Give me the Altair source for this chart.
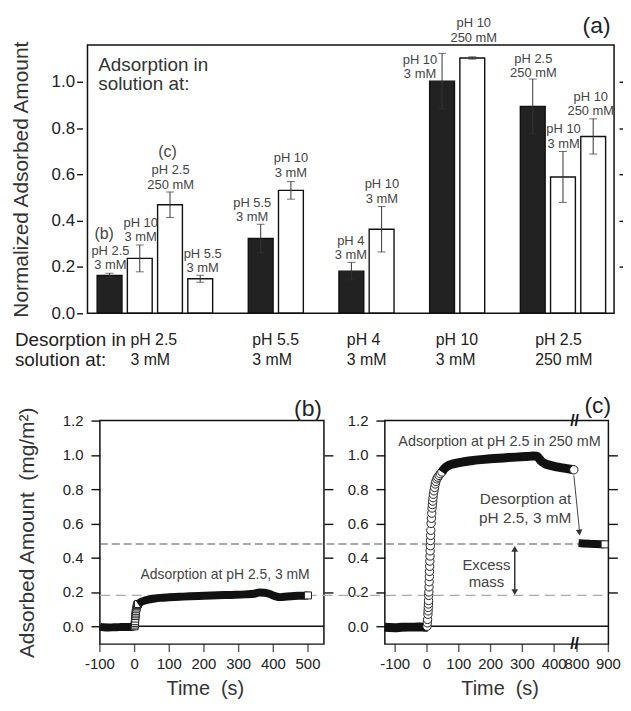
import altair as alt
import pandas as pd

# ---------------- values ----------------
# (a) normalized adsorbed amount
bar_slot = [0, 1, 2, 3, 5, 6, 8, 9, 11, 12, 14, 15, 16]
bar_value = [0.163, 0.237, 0.469, 0.149, 0.323, 0.531, 0.182, 0.363, 1.003, 1.103, 0.894, 0.589, 0.764]
bar_error = [0.010, 0.058, 0.055, 0.015, 0.062, 0.038, 0.038, 0.098, 0.120, 0.005, 0.118, 0.110, 0.076]
bar_kind = ["same", "other", "other", "other", "same", "other", "same", "other",
            "same", "other", "same", "other", "other"]
bar_label = ["pH 2.5\n3 mM", "pH 10\n3 mM", "pH 2.5\n250 mM", "pH 5.5\n3 mM",
             "pH 5.5\n3 mM", "pH 10\n3 mM", "pH 4\n3 mM", "pH 10\n3 mM",
             "pH 10\n3 mM", "pH 10\n250 mM", "pH 2.5\n250 mM", "pH 10\n3 mM", "pH 10\n250 mM"]
bar_label_x = [0.03, 1.03, 2.02, 3.08, 4.72, 6.0, 7.98, 9.01, 10.27, 12.05, 14.02, 15.02, 15.92]
bar_label_y = [0.270, 0.391, 0.618, 0.258, 0.476, 0.670, 0.313, 0.558, 1.094, 1.253, 1.099, 0.794, 0.936]
desorb_label = ["pH 2.5\n3 mM", "pH 5.5\n3 mM", "pH 4\n3 mM", "pH 10\n3 mM", "pH 2.5\n250 mM"]
desorb_x = [0.69, 4.72, 7.85, 10.79, 14.08]
y_ticks_a = [0.0, 0.2, 0.4, 0.6, 0.8, 1.0]

# (b) adsorption at pH 2.5, 3 mM
b_pre_t = [-100, -90, -75, -60, -45, -30, -15, -5, 0]
b_pre_v = [-0.002, -0.006, -0.007, -0.006, -0.005, -0.004, -0.004, -0.003, 0.0]
b_rise_t = [0, 0.5, 1, 1.5, 2, 2.5, 3, 3.5, 4, 5, 6, 7, 8, 10]
b_rise_v = [0.0, 0.01, 0.02, 0.03, 0.045, 0.06, 0.07, 0.08, 0.09, 0.10, 0.11, 0.12, 0.125, 0.13]
b_t = [10, 16, 22, 30, 40, 55, 75, 100, 130, 160, 200, 240, 280, 320, 345, 360, 375,
       390, 405, 420, 440, 460, 480, 500]
b_v = [0.13, 0.138, 0.145, 0.151, 0.156, 0.161, 0.166, 0.169, 0.172, 0.175, 0.178, 0.181,
       0.183, 0.186, 0.19, 0.197, 0.196, 0.188, 0.176, 0.17, 0.174, 0.177, 0.178, 0.18]

# (c) adsorption at pH 2.5 in 250 mM, then desorption at pH 2.5, 3 mM
c_pre_t = [-132, -120, -100, -80, -60, -40, -20, -5, 0]
c_pre_v = [-0.006, -0.007, -0.008, -0.006, -0.005, -0.005, -0.004, -0.006, -0.004]
c_rise_t = [0, 1, 2, 3, 3.5, 4, 4.5, 5, 5.5, 6, 6.5, 7, 7.5, 8, 8.5, 9, 9.5, 10, 10.5, 11,
            11.5, 12, 13, 14, 15, 16, 17, 18, 19, 20, 22, 24, 26, 28, 31, 34, 38, 42, 47]
c_rise_v = [0.0, 0.02, 0.04, 0.07, 0.09, 0.11, 0.13, 0.15, 0.18, 0.20, 0.23, 0.26, 0.29, 0.32,
            0.35, 0.38, 0.41, 0.44, 0.47, 0.50, 0.53, 0.56, 0.60, 0.63, 0.66, 0.69, 0.71, 0.73,
            0.75, 0.77, 0.79, 0.81, 0.83, 0.845, 0.86, 0.87, 0.88, 0.89, 0.90]
c_t = [47, 55, 65, 75, 90, 110, 140, 170, 200, 240, 280, 310, 335, 345, 352, 360, 370, 385,
       400, 420, 440, 462]
c_v = [0.90, 0.92, 0.935, 0.943, 0.95, 0.958, 0.966, 0.972, 0.977, 0.982, 0.987, 0.99, 0.993,
       0.992, 0.98, 0.962, 0.95, 0.94, 0.933, 0.926, 0.92, 0.913]
c_des_t = [805, 820, 840, 860, 875, 888]
c_des_v = [0.485, 0.483, 0.481, 0.48, 0.479, 0.478]

excess_levels = [0.48, 0.18]
x_ticks_b = [-100, 0, 100, 200, 300, 400, 500]
x_ticks_c = [-100, 0, 100, 200, 300, 400, 800, 900]
y_ticks_bc = [0.0, 0.2, 0.4, 0.6, 0.8, 1.0, 1.2]

# ---------------- layout ----------------
FONT = "Liberation Sans"
W, H = 619, 695
DOM_A_X = [-0.73, 16.69]
DOM_A_Y = [0, 1.159]
DOM_B_X = [-100, 546]
DOM_BC_Y = [-0.104, 1.2]
DOM_C_X = [-132.5, 463.4, 793, 900]

sx_a = alt.Scale(domain=DOM_A_X, range=[75, 615], nice=False, zero=False)
sy_a = alt.Scale(domain=DOM_A_Y, range=[305, 35], nice=False, zero=False)
sx_b = alt.Scale(domain=DOM_B_X, range=[92.5, 318], nice=False, zero=False)
sy_b = alt.Scale(domain=DOM_BC_Y, range=[638, 413], nice=False, zero=False)
sx_c = alt.Scale(domain=DOM_C_X, range=[379.3, 570, 570.5, 604.3], nice=False, zero=False)
sy_c = alt.Scale(domain=DOM_BC_Y, range=[638, 413], nice=False, zero=False)

dummy = alt.Data(values=[{"k": 0}])
INK = "#111111"


def y_axis(orient, offset, values, labels=True, title=None, title_x=0, size=15, tick=9, pad=8):
    kw = dict(orient=orient, offset=offset, values=values, format=".1f", tickSize=tick,
              tickWidth=1.4, tickColor=INK, domain=False, grid=False, labels=labels,
              labelFlush=False, labelOverlap=False, labelFontSize=size, labelColor="#222",
              labelPadding=pad)
    if title:
        kw.update(title=title, titleFontSize=21, titleFontWeight="normal", titleColor="#333",
                  titleAngle=270, titleBaseline="middle", titleX=title_x)
    else:
        kw["title"] = None
    return alt.Axis(**kw)


def note(text, x, y, sx, sy, size, color="#333", align="center", lh=None, **kw):
    props = dict(text=text, fontSize=size, color=color, align=align, baseline="middle",
                 lineBreak="\n")
    if lh:
        props["lineHeight"] = lh
    props.update(kw)
    return alt.Chart(dummy).mark_text(**props).encode(
        x=alt.XDatum(x, scale=sx, axis=None), y=alt.YDatum(y, scale=sy, axis=None))


def frame(dx, dy, sx, sy):
    return alt.Chart(dummy).mark_rect(fill="white", fillOpacity=0, stroke=INK, strokeWidth=1.5).encode(
        x=alt.XDatum(dx[0], scale=sx, axis=None), x2=alt.X2Datum(dx[-1]),
        y=alt.YDatum(dy[0], scale=sy, axis=None), y2=alt.Y2Datum(dy[-1]))


def hrule(y, x0, x1, sx, sy, **kw):
    return alt.Chart(dummy).mark_rule(**kw).encode(
        x=alt.XDatum(x0, scale=sx, axis=None), x2=alt.X2Datum(x1),
        y=alt.YDatum(y, scale=sy, axis=None))


def bottom_ticks(values, sx, sy):
    df = pd.DataFrame({"t": values})
    df["lab"] = [str(v) for v in values]
    base = alt.Chart(df)
    ticks = base.mark_tick(orient="vertical", size=8, thickness=1.4, color=INK, yOffset=4).encode(
        x=alt.X("t:Q", scale=sx, axis=None), y=alt.YDatum(DOM_BC_Y[0], scale=sy, axis=None))
    labs = base.mark_text(baseline="top", dy=13, fontSize=15, color="#222").encode(
        x=alt.X("t:Q", scale=sx, axis=None), y=alt.YDatum(DOM_BC_Y[0], scale=sy, axis=None),
        text="lab:N")
    return [ticks, labs]


# ---------------- panel (a) ----------------
df_a = pd.DataFrame({"slot": bar_slot, "value": bar_value, "err": bar_error, "kind": bar_kind})
df_a["lo"] = df_a["value"] - df_a["err"]
df_a["hi"] = df_a["value"] + df_a["err"]
df_lab = pd.DataFrame({"x": bar_label_x, "y": bar_label_y, "t": bar_label})
df_des = pd.DataFrame({"x": desorb_x, "t": desorb_label})
df_des["y"] = -0.116

xa = alt.X("slot:Q", scale=sx_a, axis=None)
bars = alt.Chart(df_a).mark_bar(size=25, stroke=INK, strokeWidth=1.4, orient="vertical").encode(
    x=xa,
    y=alt.Y("value:Q", scale=sy_a,
            axis=y_axis("left", -75, y_ticks_a, title="Normalized Adsorbed Amount", title_x=-61,
                        size=17, tick=6, pad=2)),
    y2=alt.Y2Datum(0),
    fill=alt.Fill("kind:N", scale=alt.Scale(domain=["same", "other"], range=["#222222", "#ffffff"]),
                  legend=None),
)
err = alt.Chart(df_a).mark_rule(color="#333", strokeWidth=1).encode(
    x=xa,
    y=alt.Y("lo:Q", scale=sy_a, axis=y_axis("right", -4, y_ticks_a[1:], labels=False, tick=7)),
    y2="hi:Q")
cap_lo = alt.Chart(df_a).mark_tick(orient="horizontal", size=8, thickness=1, color="#333").encode(
    x=xa, y=alt.Y("lo:Q", scale=sy_a, axis=None))
cap_hi = alt.Chart(df_a).mark_tick(orient="horizontal", size=8, thickness=1, color="#333").encode(
    x=xa, y=alt.Y("hi:Q", scale=sy_a, axis=None))
labels_a = alt.Chart(df_lab).mark_text(fontSize=13, lineHeight=14.5, color="#444", lineBreak="\n",
                                       align="center", baseline="middle").encode(
    x=alt.X("x:Q", scale=sx_a, axis=None), y=alt.Y("y:Q", scale=sy_a, axis=None), text="t:N")
labels_des = alt.Chart(df_des).mark_text(fontSize=16, lineHeight=20, color="#222", lineBreak="\n",
                                         align="left", baseline="middle").encode(
    x=alt.X("x:Q", scale=sx_a, axis=None), y=alt.Y("y:Q", scale=sy_a, axis=None), text="t:N")

panel_a = alt.layer(
    bars, err, cap_lo, cap_hi, frame(DOM_A_X, DOM_A_Y, sx_a, sy_a), labels_a, labels_des,
    note("(b)", -0.18, 0.343, sx_a, sy_a, 16, color="#444"),
    note("(c)", 1.915, 0.695, sx_a, sy_a, 16, color="#444"),
    note("Adsorption in\nsolution at:", -0.375, 1.073, sx_a, sy_a, 19, align="left", lh=19),
    note("Desorption in\nsolution at:", -3.13, -0.116, sx_a, sy_a, 19, align="left", lh=20, color="#222"),
    note("(a)", 16.11, 1.24, sx_a, sy_a, 23, color="#222"),
).resolve_axis(y="independent")

# ---------------- panel (b) ----------------
df_b_pre = pd.DataFrame({"t": b_pre_t, "v": b_pre_v})
df_b_rise = pd.DataFrame({"t": b_rise_t, "v": b_rise_v})
df_b = pd.DataFrame({"t": b_t, "v": b_v})

line_kw = dict(color=INK, strokeWidth=8, interpolate="monotone", strokeCap="butt")
b_pre = alt.Chart(df_b_pre).mark_line(**line_kw).encode(
    x=alt.X("t:Q", scale=sx_b, axis=None),
    y=alt.Y("v:Q", scale=sy_b, axis=y_axis("right", -301, y_ticks_bc[1:-1], labels=False, tick=9)))
b_main = alt.Chart(df_b).mark_line(**line_kw).encode(
    x=alt.X("t:Q", scale=sx_b, axis=None),
    y=alt.Y("v:Q", scale=sy_b, axis=y_axis("left", -92.5, y_ticks_bc,
                                            title="Adsorbed Amount\u00a0 (mg/m\u00b2)", title_x=-73)))
b_rise = alt.Chart(df_b_rise).mark_point(shape="square", filled=True, fill="white", stroke="#222",
                                         strokeWidth=1, size=50, opacity=1).encode(
    x=alt.X("t:Q", scale=sx_b, axis=None), y=alt.Y("v:Q", scale=sy_b, axis=None))
b_last = alt.Chart(df_b.tail(1)).mark_point(shape="square", filled=True, fill="white", stroke="#222",
                                             strokeWidth=1, size=50, opacity=1).encode(
    x=alt.X("t:Q", scale=sx_b, axis=None), y=alt.Y("v:Q", scale=sy_b, axis=None))

panel_b = alt.layer(
    frame(DOM_B_X, DOM_BC_Y, sx_b, sy_b),
    hrule(0, DOM_B_X[0], DOM_B_X[1], sx_b, sy_b, color=INK, strokeWidth=1.4),
    hrule(excess_levels[0], -100, 1366, sx_b, sy_b, color="#555", strokeWidth=1.1, strokeDash=[8, 4]),
    hrule(excess_levels[1], -100, 1366, sx_b, sy_b, color="#aaaaaa", strokeWidth=1.3, strokeDash=[10, 6]),
    *bottom_ticks(x_ticks_b, sx_b, sy_b),
    b_pre, b_rise, b_main, b_last,
    note("Adsorption at pH 2.5, 3 mM", 261, 0.30, sx_b, sy_b, 14, color="#444"),
    note("(b)", 500, 1.27, sx_b, sy_b, 23, color="#222"),
    note("Time\u00a0 (s)", 204, -0.368, sx_b, sy_b, 20, color="#333"),
).resolve_axis(y="independent")

# ---------------- panel (c) ----------------
df_c_pre = pd.DataFrame({"t": c_pre_t, "v": c_pre_v})
df_c_rise = pd.DataFrame({"t": c_rise_t, "v": c_rise_v})
df_c = pd.DataFrame({"t": c_t, "v": c_v})
df_c_des = pd.DataFrame({"t": c_des_t, "v": c_des_v})

lk = dict(color=INK, strokeWidth=9, interpolate="monotone", strokeCap="butt")
c_pre = alt.Chart(df_c_pre).mark_line(**lk).encode(
    x=alt.X("t:Q", scale=sx_c, axis=None),
    y=alt.Y("v:Q", scale=sy_c, axis=y_axis("right", -14.7, y_ticks_bc[1:-1], labels=False, tick=9)))
c_rise = alt.Chart(df_c_rise).mark_point(shape="circle", filled=True, fill="white", stroke="#222",
                                         strokeWidth=1, size=70, opacity=1).encode(
    x=alt.X("t:Q", scale=sx_c, axis=None), y=alt.Y("v:Q", scale=sy_c, axis=None))
c_main = alt.Chart(df_c).mark_line(**lk).encode(
    x=alt.X("t:Q", scale=sx_c, axis=None),
    y=alt.Y("v:Q", scale=sy_c, axis=y_axis("left", -379.3, y_ticks_bc)))
c_last = alt.Chart(df_c.tail(1)).mark_point(shape="circle", filled=True, fill="white", stroke="#222",
                                             strokeWidth=1, size=70, opacity=1).encode(
    x=alt.X("t:Q", scale=sx_c, axis=None), y=alt.Y("v:Q", scale=sy_c, axis=None))
c_des = alt.Chart(df_c_des).mark_line(color=INK, strokeWidth=8, strokeCap="butt").encode(
    x=alt.X("t:Q", scale=sx_c, axis=None), y=alt.Y("v:Q", scale=sy_c, axis=None))
c_des_last = alt.Chart(df_c_des.tail(1)).mark_point(shape="square", filled=True, fill="white",
                                                     stroke="#222", strokeWidth=1, size=50,
                                                     opacity=1).encode(
    x=alt.X("t:Q", scale=sx_c, axis=None), y=alt.Y("v:Q", scale=sy_c, axis=None))


def seg(x0, y0, x1, y1, **kw):
    return alt.Chart(dummy).mark_rule(**kw).encode(
        x=alt.XDatum(x0, scale=sx_c, axis=None), x2=alt.X2Datum(x1),
        y=alt.YDatum(y0, scale=sy_c, axis=None), y2=alt.Y2Datum(y1))


def head(x, y, shape, angle=0):
    return alt.Chart(dummy).mark_point(shape=shape, filled=True, color="#333", size=45, opacity=1,
                                       angle=angle).encode(
        x=alt.XDatum(x, scale=sx_c, axis=None), y=alt.YDatum(y, scale=sy_c, axis=None))


panel_c = alt.layer(
    frame([DOM_C_X[0], DOM_C_X[-1]], DOM_BC_Y, sx_c, sy_c),
    hrule(0, DOM_C_X[0], DOM_C_X[-1], sx_c, sy_c, color=INK, strokeWidth=1.4),
    *bottom_ticks(x_ticks_c, sx_c, sy_c),
    c_pre, c_rise, c_main, c_last, c_des, c_des_last,
    seg(462, 0.88, 807.7, 0.56, color="#444", strokeWidth=1),
    head(807.7, 0.547, "triangle-down", 355),
    seg(276, 0.451, 276, 0.199, color="#333", strokeWidth=1.5),
    head(276, 0.451, "triangle-up"),
    head(276, 0.199, "triangle-down"),
    note("Excess\nmass", 187, 0.359, sx_c, sy_c, 15, color="#444", lh=17),
    note("Desorption at\npH 2.5, 3 mM", 454, 0.742, sx_c, sy_c, 15.5, color="#444", align="right", lh=19),
    note("Adsorption at pH 2.5 in 250 mM", 228, 1.072, sx_c, sy_c, 14.5, color="#444"),
    note("//", 630, DOM_BC_Y[-1], sx_c, sy_c, 16, color=INK, fontWeight="bold"),
    note("//", 630, DOM_BC_Y[0], sx_c, sy_c, 16, color=INK, fontWeight="bold"),
    note("(c)", 866, 1.285, sx_c, sy_c, 23, color="#222"),
    note("Time\u00a0 (s)", 230, -0.368, sx_c, sy_c, 20, color="#333"),
).resolve_axis(y="independent")

chart = alt.layer(panel_a, panel_b, panel_c).resolve_scale(
    x="independent", y="independent"
).properties(
    width=W, height=H, padding=0, autosize=alt.AutoSizeParams(type="none")
).configure(font=FONT).configure_view(strokeWidth=0)

chart.save("out.html", embed_options={"renderer": "svg", "actions": False})
